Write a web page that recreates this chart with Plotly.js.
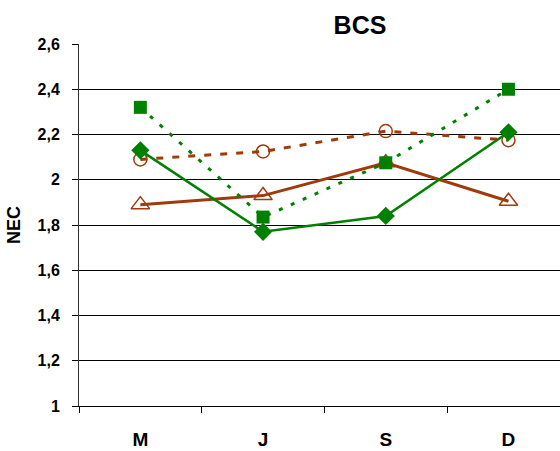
<!DOCTYPE html>
<html>
<head>
<meta charset="utf-8">
<script src="https://cdn.plot.ly/plotly-3.0.1.min.js"></script>
<style>html,body{margin:0;padding:0;background:#fff;}#chart{width:560px;height:451px;}</style>
</head>
<body>
<div id="chart"></div>
<script>
const categories = ["M", "J", "S", "D"];
const greenSquare = [2.32, 1.835, 2.075, 2.40];
const greenDiamond = [2.13, 1.77, 1.84, 2.21];
const orangeCircle = [2.09, 2.125, 2.215, 2.175];
const orangeTriangle = [1.89, 1.93, 2.075, 1.905];
const yTickVals = [1, 1.2, 1.4, 1.6, 1.8, 2, 2.2, 2.4, 2.6];
const yTickText = ["1", "1,2", "1,4", "1,6", "1,8", "2", "2,2", "2,4", "2,6"];

const GREEN = "#008000";
const ORANGE = "#A03A0A";
const FONT = "Liberation Sans, Arial, sans-serif";

const traces = [
  {
    x: categories, y: orangeTriangle, mode: "lines+markers", type: "scatter",
    line: {color: ORANGE, width: 3},
    marker: {symbol: "triangle-up-open", size: 16, color: ORANGE, line: {width: 1.5, color: ORANGE}}
  },
  {
    x: categories, y: orangeCircle, mode: "lines+markers", type: "scatter",
    line: {color: ORANGE, width: 3, dash: "7px,9px"},
    marker: {symbol: "circle-open", size: 13, color: ORANGE, line: {width: 1.5, color: ORANGE}}
  },
  {
    x: categories, y: greenSquare, mode: "lines+markers", type: "scatter",
    line: {color: GREEN, width: 3, dash: "4px,9px"},
    marker: {symbol: "square", size: 13, color: GREEN}
  },
  {
    x: categories, y: greenDiamond, mode: "lines+markers", type: "scatter",
    line: {color: GREEN, width: 2.5},
    marker: {symbol: "diamond", size: 14, color: GREEN}
  }
];

const layout = {
  width: 560, height: 451,
  margin: {l: 79, r: 0, t: 44, b: 45},
  paper_bgcolor: "#fff", plot_bgcolor: "#fff",
  showlegend: false,
  font: {family: FONT, color: "#000"},
  title: {text: "<b>BCS</b>", x: 360/560, xanchor: "center", y: 1 - 25/451, yanchor: "middle",
          font: {size: 25, family: FONT, color: "#000"}},
  xaxis: {
    type: "category", range: [-0.5, 3.42],
    tickson: "boundaries", ticks: "outside", ticklen: 6, tickcolor: "#000", tickwidth: 1,
    showgrid: false, showline: true, linecolor: "#000", linewidth: 1,
    tickfont: {size: 19, family: FONT},
    tickprefix: "<b>", ticksuffix: "</b>",
    ticklabelstandoff: 16, zeroline: false
  },
  yaxis: {
    range: [1, 2.6], tickvals: yTickVals, ticktext: yTickText.map(t => "<b>" + t + "</b>"),
    ticks: "outside", ticklen: 6, tickcolor: "#000", tickwidth: 1,
    showgrid: true, gridcolor: "#000", gridwidth: 1,
    showline: true, linecolor: "#333", linewidth: 1, zeroline: false,
    tickfont: {size: 16, family: FONT},
    ticklabelstandoff: 9,
    title: {text: "<b>NEC</b>", standoff: 12, font: {size: 18, family: FONT}}
  }
};

Plotly.newPlot("chart", traces, layout, {displayModeBar: false, staticPlot: true});
</script>
</body>
</html>
